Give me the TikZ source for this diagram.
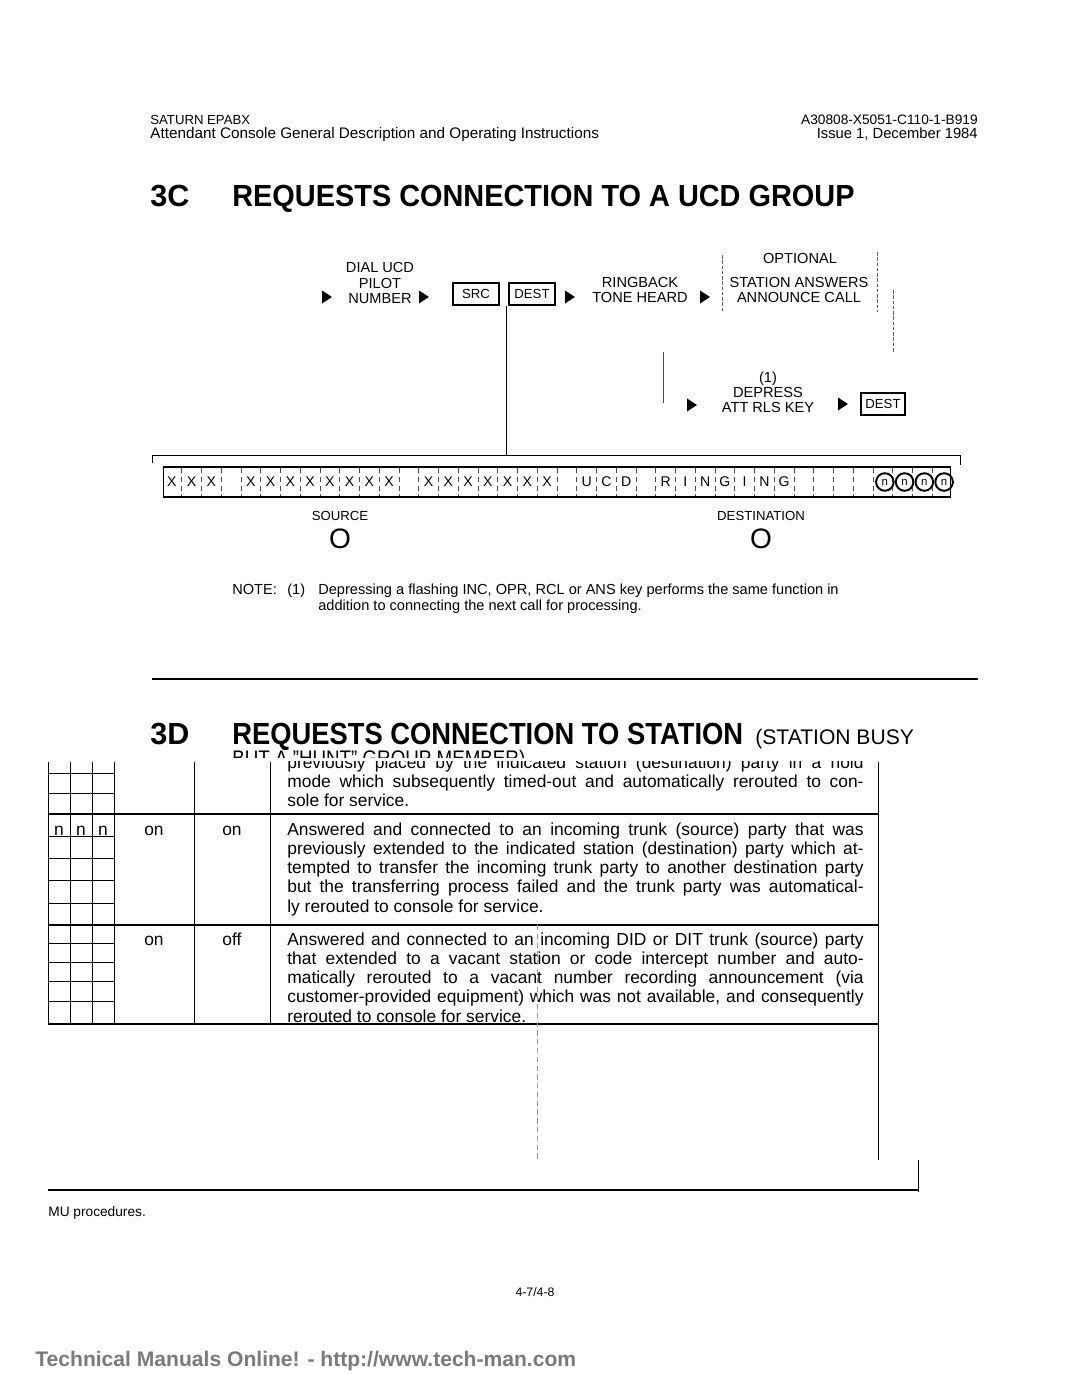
\documentclass[tikz,border=0pt]{standalone}
\usepackage{fontspec}
\setmainfont{Liberation Sans}
\usetikzlibrary{shapes.geometric}
\newcommand{\cellw}{19.75}
\newcommand{\narrow}[2][0.92]{\scalebox{#1}[1]{#2}}
\newcommand{\pointer}[1]{\fill (#1) ++(-5,-6.5) -- ++(10,6.5) -- ++(-10,6.5) -- cycle;}
\tikzstyle{page}=[x=0.02cm, y=-0.02cm]
\tikzstyle{small}=[inner sep=0, anchor=base west, font=\fontsize{7.8}{9}\selectfont]
\tikzstyle{flow}=[inner sep=0, align=center, font=\fontsize{8.3}{8.6}\selectfont]
\tikzstyle{keybox}=[draw, line width=1.1pt, inner sep=0, minimum width=26pt, minimum height=12.5pt, font=\fontsize{7.5}{8}\selectfont]
\tikzstyle{heading}=[inner sep=0, anchor=base west, font=\fontsize{17.4}{20}\bfseries]
\tikzstyle{subheading}=[heading, font=\fontsize{12}{13}\selectfont]
\tikzstyle{cell}=[inner sep=0, font=\fontsize{8}{9}\selectfont]
\tikzstyle{ncircle}=[circle, draw, line width=1.1pt, inner sep=0, minimum size=10pt, font=\fontsize{6.5}{7}\selectfont]
\tikzstyle{body}=[inner sep=0, anchor=base west, text width=328pt, align=justify, font=\fontsize{9.9}{11}\selectfont]
\tikzstyle{entry}=[inner sep=0, anchor=base, font=\fontsize{9.9}{11}\selectfont]
\tikzstyle{rule}=[line width=1.2pt]
\tikzstyle{thin}=[line width=0.45pt]
\tikzstyle{sep}=[line width=0.35pt, densely dashed, black!70]
\tikzstyle{optline}=[line width=0.35pt, dash pattern=on 2pt off 1pt, black!60]

\begin{document}
\begin{tikzpicture}[page]
    \useasboundingbox (0,0) rectangle (1080,1397);
    % page header
    \node[small, font=\fontsize{7.5}{9}\selectfont] (series) at (150,124) {SATURN EPABX};
    \node[small, font=\fontsize{8.7}{9}\selectfont] (manual) at (150,138) {Attendant Console General Description and Operating Instructions};
    \node[small, anchor=base east] (docno) at (978,124) {A30808-X5051-C110-1-B919};
    \node[small, anchor=base east, font=\fontsize{8.4}{9}\selectfont] (issue) at (978,138) {Issue 1, December 1984};

    \node[heading] (num3c) at (150,206) {3C};
    \node[heading] (title3c) at (232,206) {\narrow[0.945]{REQUESTS CONNECTION TO A UCD GROUP}};

    % call flow
    \pointer{327,297}
    \node[flow] (dial) at (380,283) {DIAL UCD\\PILOT\\NUMBER};
    \pointer{424,297}
    \node[keybox] (src) at (476,294) {SRC};
    \node[keybox] (dest) at (532,294) {DEST};
    \pointer{570,297}
    \node[flow] (ringback) at (640,290) {RINGBACK\\TONE HEARD};
    \pointer{705,297}
    \node[flow] (optional) at (800,258) {OPTIONAL};
    \node[flow] (answers) at (799,290) {STATION ANSWERS\\ANNOUNCE CALL};
    \draw[optline] (722,255) -- (722,312);
    \draw[optline] (877,252) -- (877,312);
    \draw[optline] (893,290) -- (893,352);

    \draw[thin, black!70] (663,352) -- (663,403);
    \pointer{692,405}
    \node[flow] (depress) at (768,392) {(1)\\DEPRESS\\ATT RLS KEY};
    \pointer{843,404}
    \node[keybox, minimum width=25pt] (dest2) at (883,404) {DEST};

    % display
    \coordinate (bracket) at (557,455);
    \coordinate (brl) at (152,463);
    \coordinate (brr) at (960,465);
    \draw[thin] ([xshift=-1pt]dest.south west) -- ([xshift=-1pt]dest.south west |- bracket);
    \draw[thin] (brl) -- (brl |- bracket) -- (brr |- bracket) -- (brr);
    \node[draw, line width=1.1pt, inner sep=0, minimum width=447.9pt, minimum height=17pt] (display) at (557,482) {};
    \foreach \i in {1,...,39}
        \draw[sep] ({162+\i*\cellw},468) -- ({162+\i*\cellw},496);
    \foreach \i in {0,1,2,4,5,...,11,13,14,...,19}
        \node[cell] (x\i) at ({162+(\i+0.5)*\cellw},482) {X};
    \foreach \i/\c in {21/U,22/C,23/D,25/R,26/I,27/N,28/G,29/I,30/N,31/G}
        \node[cell] (l\i) at ({162+(\i+0.5)*\cellw},482) {\c};
    \foreach \i in {36,...,39}
        \node[ncircle] (n\i) at ({162+(\i+0.6)*\cellw},482) {n};

    \node[flow, font=\fontsize{7.5}{8}\selectfont] (source) at (340,516) {SOURCE};
    \node[inner sep=0, font=\fontsize{16}{16}\selectfont] (srcmark) at (340,539) {O};
    \node[flow, font=\fontsize{7.5}{8}\selectfont] (destination) at (761,516) {DESTINATION};
    \node[inner sep=0, font=\fontsize{16}{16}\selectfont] (destmark) at (761,539) {O};

    \node[small, font=\fontsize{8.3}{9}\selectfont] (note) at (232,594) {NOTE:};
    \node[small, font=\fontsize{8.3}{9}\selectfont] (noteno) at (287,594) {(1)};
    \node[small, font=\fontsize{8.3}{9}\selectfont] (note1) at (318,594) {Depressing a flashing INC, OPR, RCL or ANS key performs the same function in};
    \node[small, font=\fontsize{8.3}{9}\selectfont] (note2) at (318,610) {addition to connecting the next call for processing.};

    \draw[rule] (152,679) -- (978,679);

    \node[heading] (num3d) at (150,744) {3D};
    \node[heading] (title3d) at (232,744) {\narrow[0.895]{REQUESTS CONNECTION TO STATION}};
    \node[subheading] (busy) at (755,744) {(STATION BUSY};
    \begin{scope}
        \clip (200,740) rectangle (950,757);
        \node[subheading] (hunt) at (232,765) {\narrow[0.89]{BUT A "HUNT" GROUP MEMBER)}};
    \end{scope}

    % table
    \begin{scope}
        \clip (275,761) rectangle (880,815);
        \node[body] (row1) at (287,768) {previously placed by the indicated station (destination) party in a hold\linebreak
            mode which subsequently timed-out and automatically rerouted to con-\linebreak
            sole for service.};
    \end{scope}
    \node[body] (row2) at (287,835) {Answered and connected to an incoming trunk (source) party that was\linebreak
        previously extended to the indicated station (destination) party which at-\linebreak
        tempted to transfer the incoming trunk party to another destination party\linebreak
        but the transferring process failed and the trunk party was automatical-\linebreak
        ly rerouted to console for service.};
    \node[body] (row3) at (287,945) {Answered and connected to an incoming DID or DIT trunk (source) party\linebreak
        that extended to a vacant station or code intercept number and auto-\linebreak
        matically rerouted to a vacant number recording announcement (via\linebreak
        customer-provided equipment) which was not available, and consequently\linebreak
        rerouted to console for service.};
    \foreach \x in {48,70,92,114,194,270}
        \draw[thin] (\x,762) -- (\x,1024);
    \draw[thin] (878,762) -- (878,1160);
    \foreach \y in {814,925,1024}
        \draw[rule] (48,\y) -- (878,\y);
    \foreach \y in {773,793,836,858,880,903,943,962,981,1001}
        \draw[thin] (48,\y) -- (114,\y);
    \foreach \x [count=\k] in {59,81,103}
        \node[entry] (nn\k) at (\x,835) {n};
    \node[entry] (on1) at (154,835) {on};
    \node[entry] (on2) at (232,835) {on};
    \node[entry] (on3) at (154,945) {on};
    \node[entry] (off3) at (232,945) {off};
    \draw[sep, black!40] (537,925) -- (537,1160);
    \draw[thin] (918,1160) -- (918,1192);
    \draw[rule] (48,1190) -- (918,1190);

    \node[small] (mu) at (48,1216) {MU procedures.};
    \node[inner sep=0, font=\fontsize{7}{8}\selectfont] (pageno) at (535,1292) {4-7/4-8};
    \node[inner sep=0, anchor=base west, text=black!52, font=\fontsize{12}{14}\bfseries] (mark) at (35,1366) {Technical Manuals Online! - http://www.tech-man.com};
\end{tikzpicture}
\end{document}
